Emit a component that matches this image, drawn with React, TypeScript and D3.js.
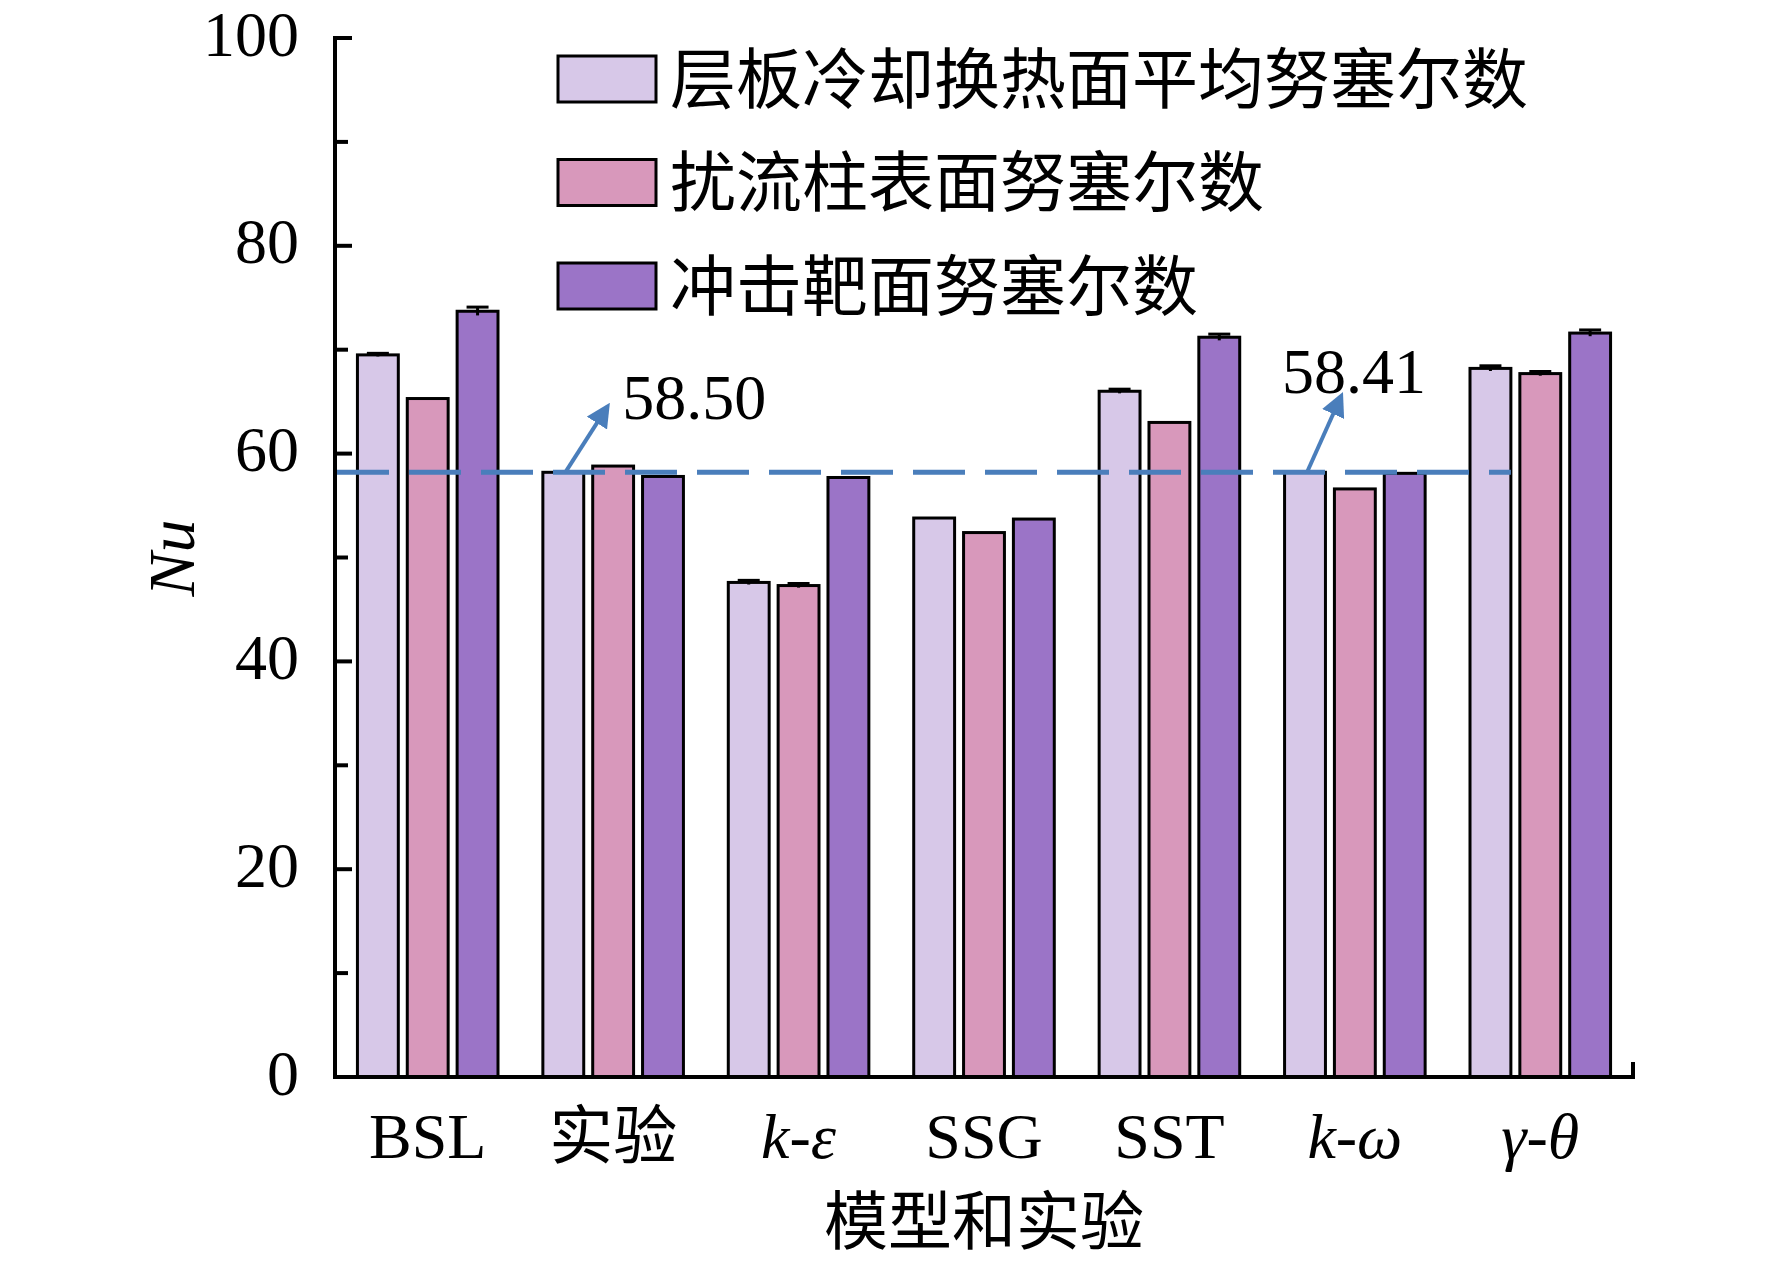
import * as d3 from 'd3';

// categories on the x axis
const categories = ['BSL', '实验', 'k-ε', 'SSG', 'SST', 'k-ω', 'γ-θ'];
const italicCats = ['k-ε', 'k-ω', 'γ-θ'];

const seriesNames = ['层板冷却换热面平均努塞尔数', '扰流柱表面努塞尔数', '冲击靶面努塞尔数'];
const seriesColors = ['#d7c8e8', '#d898bb', '#9b74c7'];

// values
const plateNu = [69.5, 58.2, 47.6, 53.8, 66.0, 58.2, 68.2];
const pinNu = [65.3, 58.8, 47.3, 52.4, 63.0, 56.6, 67.7];
const targetNu = [73.7, 57.8, 57.7, 53.7, 71.2, 58.1, 71.6];
const plateErr = [0.15, 0, 0.2, 0, 0.2, 0, 0.25];
const pinErr = [0, 0, 0.2, 0, 0, 0, 0.2];
const targetErr = [0.4, 0, 0, 0, 0.3, 0, 0.3];

const yTicks = [0, 20, 40, 60, 80, 100];
const yMinorTicks = [10, 30, 50, 70, 90];

// dashed reference line + two callouts
const refValue = 58.2;
const refEndCat = 'γ-θ';
const callouts = [
  { cat: '实验', text: '58.50', tipValue: 64.5, textValue: 63.3, dx: 42, textDx: 15 },
  { cat: 'k-ω', text: '58.41', tipValue: 65.5, textValue: 65.8, dx: 34, textDx: -59 },
];

const W = 1772;
const H = 1264;
const serif = '"Liberation Serif", "Times New Roman", "Noto Sans CJK SC", serif';

function CatLabel({ label }: { label: string }) {
  if (!italicCats.includes(label)) return <>{label}</>;
  const [a, b] = label.split('-');
  return (
    <>
      <tspan fontStyle="italic">{a}</tspan>-<tspan fontStyle="italic">{b}</tspan>
    </>
  );
}

export default function App() {
  const series = [
    { values: plateNu, err: plateErr },
    { values: pinNu, err: pinErr },
    { values: targetNu, err: targetErr },
  ];

  const y = d3.scaleLinear().domain([0, 100]).range([1077, 38]);
  const x = d3.scaleBand<string>().domain(categories).range([335, 1633]);
  const xi = d3
    .scaleBand<number>()
    .domain([0, 1, 2])
    .range([0, x.bandwidth()])
    .paddingInner(0.18)
    .paddingOuter(0.45);

  const barX = (cat: string, s: number) => (x(cat) as number) + (xi(s) as number);
  const bw = xi.bandwidth();

  const refEnd = barX(refEndCat, 0) + bw;

  return (
    <div style={{ position: 'absolute', left: 0, top: 0 }}>
      <svg width={W} height={H} style={{ display: 'block', background: '#fff' }}>
        <defs>
          <marker
            id="arrow"
            viewBox="0 0 10 10"
            refX="8"
            refY="5"
            markerWidth="6"
            markerHeight="6"
            markerUnits="strokeWidth"
            orient="auto"
          >
            <path d="M0,0 L10,5 L0,10 z" fill="#4a7ebb" />
          </marker>
        </defs>

        {/* bars */}
        {categories.map((cat, ci) =>
          series.map((s, si) => {
            const v = s.values[ci];
            const bx = barX(cat, si);
            return (
              <g key={cat + si}>
                <rect
                  x={bx}
                  y={y(v)}
                  width={bw}
                  height={y(0) - y(v)}
                  fill={seriesColors[si]}
                  stroke="#000"
                  strokeWidth={3}
                />
                {s.err[ci] > 0 && (
                  <g stroke="#000" strokeWidth={3}>
                    <line x1={bx + bw / 2} x2={bx + bw / 2} y1={y(v - s.err[ci])} y2={y(v + s.err[ci])} />
                    <line x1={bx + bw / 2 - 11} x2={bx + bw / 2 + 11} y1={y(v + s.err[ci])} y2={y(v + s.err[ci])} />
                  </g>
                )}
              </g>
            );
          })
        )}

        {/* reference line */}
        <line
          x1={337}
          x2={refEnd}
          y1={y(refValue)}
          y2={y(refValue)}
          stroke="#4a7ebb"
          strokeWidth={5}
          strokeDasharray="52 20"
        />

        {/* callouts */}
        {callouts.map((c) => {
          const x0 = barX(c.cat, 0) + bw / 2 + 2;
          const x1 = x0 + c.dx;
          return (
            <g key={c.text}>
              <line
                x1={x0}
                y1={y(refValue)}
                x2={x1}
                y2={y(c.tipValue)}
                stroke="#4a7ebb"
                strokeWidth={4}
                markerEnd="url(#arrow)"
              />
              <text x={x1 + c.textDx} y={y(c.textValue)} fontFamily={serif} fontSize={64} fill="#000">
                {c.text}
              </text>
            </g>
          );
        })}

        {/* y axis */}
        <line x1={335} x2={335} y1={y(100) - 2} y2={y(0) + 2} stroke="#000" strokeWidth={4} />
        {yTicks.map((t) => (
          <g key={t}>
            <line x1={335} x2={352} y1={y(t)} y2={y(t)} stroke="#000" strokeWidth={4} />
            <text
              x={299}
              y={y(t) - 4}
              textAnchor="end"
              dominantBaseline="central"
              fontFamily={serif}
              fontSize={64}
            >
              {t}
            </text>
          </g>
        ))}
        {yMinorTicks.map((t) => (
          <line key={t} x1={335} x2={348} y1={y(t)} y2={y(t)} stroke="#000" strokeWidth={4} />
        ))}

        {/* x axis */}
        <line x1={333} x2={1635} y1={y(0)} y2={y(0)} stroke="#000" strokeWidth={4} />
        <line x1={1633} x2={1633} y1={y(0)} y2={y(0) - 15} stroke="#000" strokeWidth={4} />
        {categories.map((cat) => (
          <text
            key={cat}
            x={(x(cat) as number) + x.bandwidth() / 2}
            y={1158}
            textAnchor="middle"
            fontFamily={serif}
            fontSize={64}
          >
            <CatLabel label={cat} />
          </text>
        ))}

        {/* axis titles */}
        <text x={984} y={1222} textAnchor="middle" dominantBaseline="central" fontFamily={serif} fontSize={64}>
          模型和实验
        </text>
        <text
          transform="translate(171,558) rotate(-90)"
          textAnchor="middle"
          dominantBaseline="central"
          fontFamily={serif}
          fontStyle="italic"
          fontSize={66}
        >
          Nu
        </text>

        {/* legend */}
        {seriesNames.map((name, i) => (
          <g key={name} transform={`translate(558,${56 + i * 103.5})`}>
            <rect width={98} height={46} fill={seriesColors[i]} stroke="#000" strokeWidth={3} />
            <text x={112} y={24} dominantBaseline="central" fontFamily={serif} fontSize={66}>
              {name}
            </text>
          </g>
        ))}
      </svg>
    </div>
  );
}
